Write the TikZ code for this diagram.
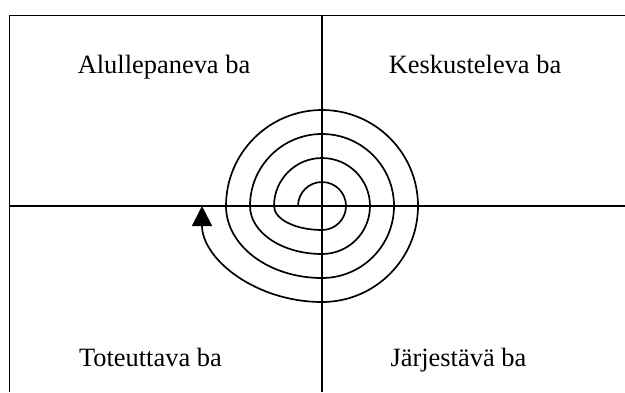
\documentclass[tikz,border=0pt]{standalone}
\usepackage{fontspec}
\setmainfont{Liberation Serif}
\usetikzlibrary{arrows.meta,calc}

\begin{document}
\begin{tikzpicture}[line width=1.2pt, label/.style={anchor=base, inner sep=0pt, font=\fontsize{18.8}{22}\selectfont}]
    \def\ringStep{0.6}

    \useasboundingbox (0,0) rectangle (15.625,9.8);

    % Define the corners and the centre
    \coordinate (TL) at (0.24,9.41);
    \coordinate (TR) at (15.625,9.41);
    \coordinate (BL) at (0.24,0);
    \coordinate (ML) at (0.24,4.65);
    \coordinate (MR) at (15.625,4.65);
    \coordinate (MT) at (8.05,9.41);
    \coordinate (MB) at (8.05,0);
    \coordinate (C) at (8.05,4.65);

    % Draw frame and axes
    \draw (TR) -- (TL) -- (BL);
    \draw (ML) -- (MR);
    \draw (MT) -- (MB);

    % Label the quarters
    \node[label] (alku) at (4.1,7.97) {Alullepaneva ba};
    \node[label] (kesk) at (11.875,7.97) {Keskusteleva ba};
    \node[label] (tote) at (3.76,0.65) {Toteuttava ba};
    \node[label] (jarj) at (11.46,0.65) {Järjestävä ba};

    % Draw the spiral
    \draw[-{Triangle[length=0.5cm,width=0.5cm]}] ($(C)+(-\ringStep,0)$)
        \foreach \k in {1,...,4} {
            arc[start angle=180, end angle=0, radius=\k*\ringStep cm]
            arc[start angle=0, end angle=-90, radius=\k*\ringStep cm]
            arc[start angle=-90, end angle=-180, x radius=\k*\ringStep cm+\ringStep cm, y radius=\k*\ringStep cm]
        };

\end{tikzpicture}
\end{document}
